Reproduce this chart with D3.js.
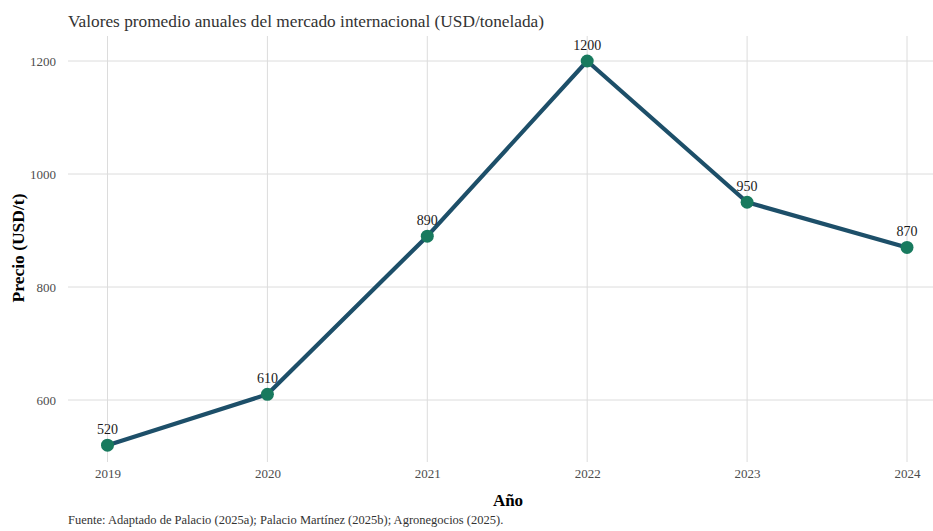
<!DOCTYPE html>
<html>
<head>
<meta charset="utf-8">
<script src="https://cdn.jsdelivr.net/npm/d3@7"></script>
<style>
body{margin:0;background:#fff;}
svg{display:block;font-family:"Liberation Serif","Times New Roman",serif;}
</style>
</head>
<body>
<svg id="chart" width="933" height="531"></svg>
<script>
const years = [2019, 2020, 2021, 2022, 2023, 2024];
const prices = [520, 610, 890, 1200, 950, 870];
const yTicks = [600, 800, 1000, 1200];
const subtitle = "Valores promedio anuales del mercado internacional (USD/tonelada)";
const xTitle = "Año";
const yTitle = "Precio (USD/t)";
const caption = "Fuente: Adaptado de Palacio (2025a); Palacio Martínez (2025b); Agronegocios (2025).";

const data = years.map((y,i)=>({year:y, price:prices[i]}));
const svg = d3.select("#chart");

const panel = {left:68, right:933, top:36, bottom:462};
const x = d3.scaleLinear().domain([2019, 2024]).range([107.5, 907]);
const y = d3.scaleLinear().domain([600, 1200]).range([400, 61]);

// grid
const g = svg.append("g");
g.selectAll(".hg").data(yTicks).join("line")
  .attr("x1", panel.left).attr("x2", panel.right)
  .attr("y1", d=>y(d)).attr("y2", d=>y(d))
  .attr("stroke", "#dcdcdc").attr("stroke-width", 1);
g.selectAll(".vg").data(years).join("line")
  .attr("x1", d=>x(d)).attr("x2", d=>x(d))
  .attr("y1", panel.top).attr("y2", panel.bottom)
  .attr("stroke", "#dcdcdc").attr("stroke-width", 1);

// axes (labels only)
const yAxis = d3.axisLeft(y).tickValues(yTicks).tickSize(0).tickPadding(0).tickFormat(d3.format("d"));
const ya = svg.append("g").attr("transform", "translate(56,0)").call(yAxis);
ya.select(".domain").remove();
ya.selectAll("text").attr("font-family","Liberation Serif, serif").attr("font-size",13).attr("fill","#4d4d4d").attr("dy","0.35em");

const xAxis = d3.axisBottom(x).tickValues(years).tickSize(0).tickPadding(0).tickFormat(d3.format("d"));
const xa = svg.append("g").attr("transform", "translate(0,469)").call(xAxis);
xa.select(".domain").remove();
xa.selectAll("text").attr("font-family","Liberation Serif, serif").attr("font-size",13).attr("fill","#4d4d4d").attr("dy","0.71em");

// line
const line = d3.line().x(d=>x(d.year)).y(d=>y(d.price));
svg.append("path").datum(data).attr("d", line)
  .attr("fill","none").attr("stroke","#1d4f69").attr("stroke-width",4.2)
  .attr("stroke-linejoin","round").attr("stroke-linecap","round");

// points
svg.selectAll(".pt").data(data).join("circle")
  .attr("cx", d=>x(d.year)).attr("cy", d=>y(d.price)).attr("r", 6.5)
  .attr("fill","#187a5e");

// value labels
svg.selectAll(".lbl").data(data).join("text")
  .attr("x", d=>x(d.year)).attr("y", d=>y(d.price)-11)
  .attr("text-anchor","middle").attr("font-size",14).attr("fill","#1a1a1a")
  .text(d=>d.price);

// texts
svg.append("text").attr("x",68).attr("y",27).attr("font-size",17.3).attr("fill","#333")
  .text(subtitle);
svg.append("text").attr("x",508).attr("y",506).attr("text-anchor","middle")
  .attr("font-size",17).attr("font-weight","bold").attr("fill","#000").text(xTitle);
svg.append("text").attr("transform","translate(24,248) rotate(-90)").attr("text-anchor","middle")
  .attr("font-size",17.5).attr("font-weight","bold").attr("fill","#000").text(yTitle);
svg.append("text").attr("x",68).attr("y",524).attr("font-size",12.5).attr("fill","#333")
  .text(caption);
</script>
</body>
</html>
